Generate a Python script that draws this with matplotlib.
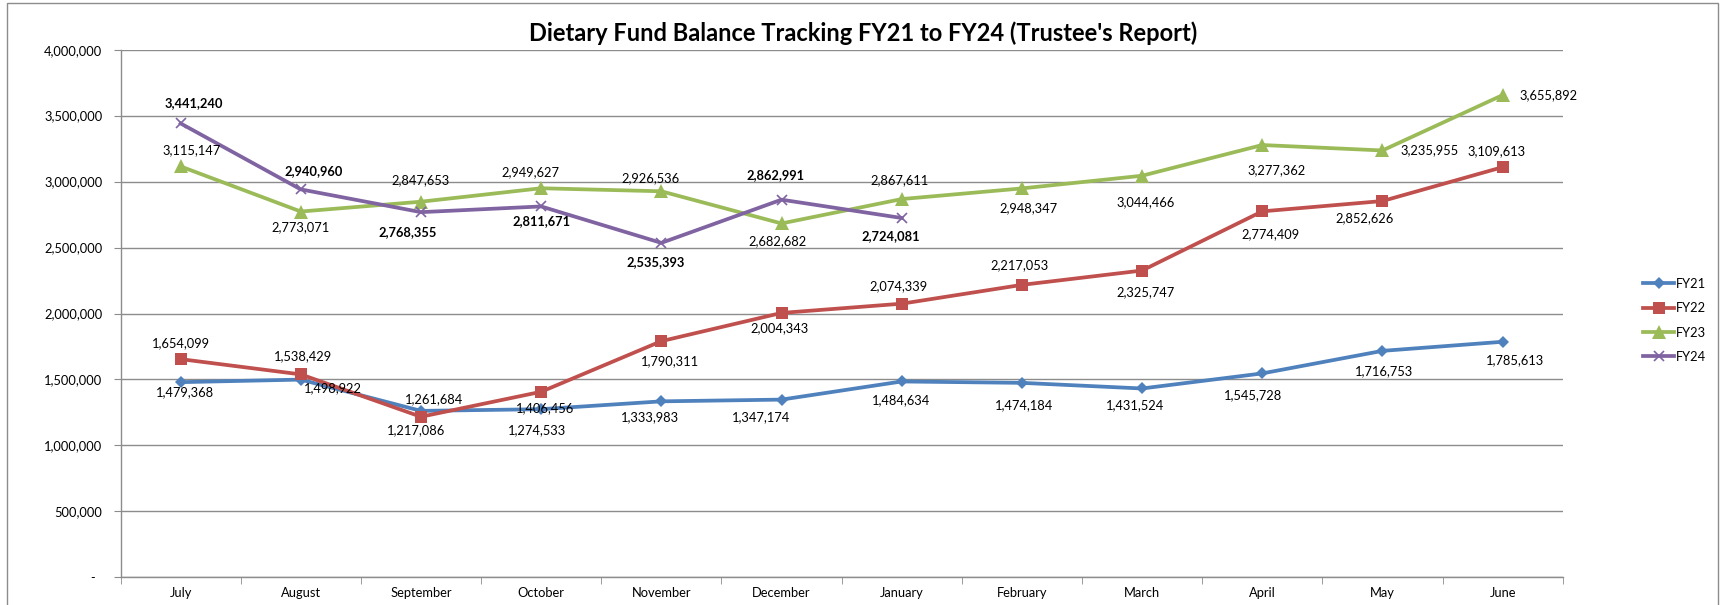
import matplotlib
matplotlib.use("Agg")
import matplotlib.pyplot as plt
from matplotlib.patches import Rectangle
from matplotlib.ticker import FuncFormatter

plt.rcParams['font.family'] = ['Lato', 'DejaVu Sans']

months = ['July', 'August', 'September', 'October', 'November', 'December',
          'January', 'February', 'March', 'April', 'May', 'June']

fy21 = [1479368, 1498922, 1261684, 1274533, 1333983, 1347174,
        1484634, 1474184, 1431524, 1545728, 1716753, 1785613]
fy22 = [1654099, 1538429, 1217086, 1406456, 1790311, 2004343,
        2074339, 2217053, 2325747, 2774409, 2852626, 3109613]
fy23 = [3115147, 2773071, 2847653, 2949627, 2926536, 2682682,
        2867611, 2948347, 3044466, 3277362, 3235955, 3655892]
fy24 = [3441240, 2940960, 2768355, 2811671, 2535393, 2862991, 2724081]

series_names = ['FY21', 'FY22', 'FY23', 'FY24']

# label offsets in pixels (dx right, dy down)
label_offsets = {
    'FY21': [(4, 10), (32, 9), (13, -12), (-4, 21), (-11, 16), (-20, 18),
             (-1, 19), (2, 22), (-7, 17), (-9, 22), (2, 20), (12, 18)],
    'FY22': [(0, -16), (2, -18), (-5, 13), (4, 16), (9, 20), (-2, 15),
             (-3, -18), (-2, -20), (3, 22), (8, 23), (-18, 17), (-6, -16)],
    'FY23': [(11, -16), (0, 16), (0, -22), (-11, -16), (-11, -13), (-4, 18),
             (-2, -19), (7, 20), (4, 26), (14, 25), (18, 0), (17, 0)],
    'FY24': [(13, -20), (13, -18), (-13, 20), (0, 15), (-6, 19), (-6, -25),
             (-11, 18)],
}

styles = {
    'FY21': dict(color='#4F81BD', marker='D', ms=6.5, mew=0),
    'FY22': dict(color='#C0504D', marker='s', ms=8, mew=0),
    'FY23': dict(color='#9BBB59', marker='^', ms=9.5, mew=0),
    'FY24': dict(color='#8064A2', marker='x', ms=7, mew=1.2),
}

grid_color = '#8C8C8C'
fs = 9.3

fig = plt.figure(figsize=(17.2, 6.05), dpi=100)
ax = fig.add_axes([120.5 / 1720, 1 - 577.3 / 605, (1562.7 - 120.5) / 1720, (577.3 - 49.7) / 605])

# outer chart border
fig.patches.append(Rectangle((7 / 1720, -0.05), 1711 / 1720, 1.05 - 3 / 605,
                             transform=fig.transFigure, fill=False,
                             edgecolor='#8C8C8C', linewidth=1.0))

data = {'FY21': fy21, 'FY22': fy22, 'FY23': fy23, 'FY24': fy24}
for name in series_names:
    vals = data[name]
    xs = list(range(len(vals)))
    st = styles[name]
    ax.plot(xs, vals, color=st['color'], linewidth=2.7, marker=st['marker'],
            markersize=st['ms'], markeredgewidth=st['mew'],
            markeredgecolor=st['color'], label=name, zorder=3)
    for i, v in enumerate(vals):
        dx, dy = label_offsets[name][i]
        ha = 'left' if (name == 'FY23' and i >= 10) else 'center'
        ax.annotate(f"{v:,}", (i, v), xytext=(dx, -dy), textcoords='offset pixels',
                    ha=ha, va='center', fontsize=fs, color='black',
                    fontweight='bold' if name == 'FY24' else 'normal', zorder=4)

ax.set_xlim(-0.5, 11.5)
ax.set_ylim(0, 4000000)
ax.set_yticks(range(0, 4000001, 500000))
ax.yaxis.set_major_formatter(FuncFormatter(lambda v, p: '-  ' if v == 0 else f"{int(v):,}"))
ax.set_xticks(range(12))
ax.set_xticklabels(months)
ax.set_xticks([i - 0.5 for i in range(13)], minor=True)

ax.grid(axis='y', color=grid_color, linewidth=1.0)
ax.set_axisbelow(True)
for s in ['top', 'right']:
    ax.spines[s].set_visible(False)
for s in ['left', 'bottom']:
    ax.spines[s].set_color(grid_color)
    ax.spines[s].set_linewidth(1.0)

ax.tick_params(axis='y', length=5, color=grid_color, labelsize=fs, pad=8)
ax.tick_params(axis='x', which='major', length=0, labelsize=fs, pad=7)
ax.tick_params(axis='x', which='minor', length=5, color=grid_color)

fig.text(863 / 1720, 1 - 33 / 605, "Dietary Fund Balance Tracking FY21 to FY24 (Trustee's Report)",
         ha='center', va='center', fontsize=17, fontweight='bold')

leg = fig.legend(loc='upper left', bbox_to_anchor=(1643 / 1720, 1 - 278 / 605),
                 frameon=False, fontsize=fs, handlelength=2.4, handletextpad=0.15,
                 labelspacing=0.95, borderpad=0, borderaxespad=0, numpoints=1)

fig.savefig('out.png', dpi=100, facecolor='white')
